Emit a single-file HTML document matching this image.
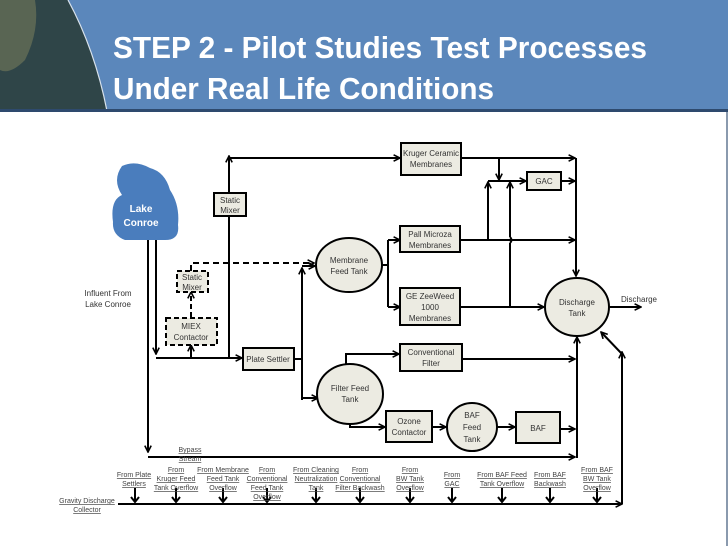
<!DOCTYPE html>
<html><head><meta charset="utf-8"><style>
html,body{margin:0;padding:0;width:728px;height:546px;overflow:hidden;background:#fff}
svg{display:block}
</style></head><body>
<svg width="728" height="546" viewBox="0 0 728 546" xmlns="http://www.w3.org/2000/svg" font-family="Liberation Sans, sans-serif">
<defs>
<marker id="a" viewBox="0 0 10 10" refX="9" refY="5" markerWidth="4" markerHeight="4" orient="auto"><path d="M1,1 L9,5 L1,9" fill="none" stroke="#000" stroke-width="2"/></marker>
</defs>
<rect x="0" y="0" width="728" height="111" fill="#5b87bb"/>
<path d="M0,0 L68,0 Q95,50 107,111 L0,111 Z" fill="#2f4548"/>
<path d="M0,0 L35,0 Q40,30 25,60 Q10,75 0,70 Z" fill="#6b7358" opacity="0.7"/>
<path d="M68,0 Q95,50 107,111" fill="none" stroke="#d8e2ec" stroke-width="1.2"/>
<rect x="0" y="109" width="728" height="3" fill="#2e4a6e"/>
<rect x="726" y="112" width="2" height="434" fill="#8a9aae"/>
<text x="113" y="58" font-size="31" font-weight="bold" fill="#fff" textLength="534" lengthAdjust="spacingAndGlyphs">STEP 2 - Pilot Studies Test Processes</text>
<text x="113" y="99" font-size="31" font-weight="bold" fill="#fff" textLength="381" lengthAdjust="spacingAndGlyphs">Under Real Life Conditions</text>

<g stroke="#000" stroke-width="2" fill="none">
<!-- lake verticals -->
<path d="M148,238 V452" marker-end="url(#a)"/>
<path d="M156,238 V354" marker-end="url(#a)"/>
<path d="M156,358 H242" marker-end="url(#a)"/>
<path d="M191,358 V345" marker-end="url(#a)"/>
<path d="M229,358 V156" marker-end="url(#a)"/>
<path d="M229,158 H400" marker-end="url(#a)"/>
<!-- dashed -->
<path d="M191,317 V292" stroke-dasharray="5,3" marker-end="url(#a)"/>
<path d="M191,271 V263 H314" stroke-dasharray="6,4" marker-end="url(#a)"/>
<!-- plate settler to filter feed -->
<path d="M294,359 H301"/>
<path d="M302,400 V268" marker-end="url(#a)"/>
<path d="M302,266 H315" marker-end="url(#a)"/>
<path d="M302,398 H318" marker-end="url(#a)"/>
<!-- membrane feed out -->
<path d="M382,265 H388 M388,240 V307"/>
<path d="M388,240 H400" marker-end="url(#a)"/>
<path d="M388,307 H400" marker-end="url(#a)"/>
<!-- kruger/pall/GE -->
<path d="M461,158 H575" marker-end="url(#a)"/>
<path d="M499,158 V180" marker-end="url(#a)"/>
<path d="M488,181 H526" marker-end="url(#a)"/>
<path d="M561,181 H575" marker-end="url(#a)"/>
<path d="M488,240 V182" marker-end="url(#a)"/>
<path d="M510,307 V243 M510,237 V182" marker-end="url(#a)"/>
<path d="M510,243 Q513,240 510,237"/>
<path d="M460,240 H575" marker-end="url(#a)"/>
<path d="M460,307 H544" marker-end="url(#a)"/>
<path d="M576,158 V276" marker-end="url(#a)"/>
<path d="M609,307 H641" marker-end="url(#a)"/>
<!-- lower -->
<path d="M577,458 V337" marker-end="url(#a)"/>
<path d="M462,359 H575" marker-end="url(#a)"/>
<path d="M560,429 H575" marker-end="url(#a)"/>
<path d="M148,457 H575" marker-end="url(#a)"/>
<path d="M622,504 V352" marker-end="url(#a)"/>
<path d="M622,354 L601,332" marker-end="url(#a)"/>
<path d="M346,366 V354 H399" marker-end="url(#a)"/>
<path d="M350,424 V427 H385" marker-end="url(#a)"/>
<path d="M432,427 H446" marker-end="url(#a)"/>
<path d="M497,427 H515" marker-end="url(#a)"/>
<!-- collector -->
<path d="M118,504 H622" marker-end="url(#a)"/>
<path d="M135,488 V502 M176,488 V502 M223,488 V502 M267,488 V502 M316,488 V502 M360,488 V502 M410,488 V502 M452,488 V502 M502,488 V502 M550,488 V502 M597,488 V502"/>
<path d="M131,497 L135,502 L139,497 M172,497 L176,502 L180,497 M219,497 L223,502 L227,497 M263,497 L267,502 L271,497 M312,497 L316,502 L320,497 M356,497 L360,502 L364,497 M406,497 L410,502 L414,497 M448,497 L452,502 L456,497 M498,497 L502,502 L506,497 M546,497 L550,502 L554,497 M593,497 L597,502 L601,497"/>
</g>

<!-- lake -->
<path d="M122,166 Q135,160 150,168 Q165,172 170,190 Q180,205 178,225 Q180,240 165,240 L125,240 Q112,235 113,222 Q110,200 122,195 Q112,180 122,166 Z" fill="#4a7dbd"/>
<text x="141" y="212" font-size="10" font-weight="bold" fill="#fff" text-anchor="middle">Lake</text>
<text x="141" y="226" font-size="10" font-weight="bold" fill="#fff" text-anchor="middle">Conroe</text>

<g fill="#ecebe2" stroke="#000" stroke-width="2">
<rect x="214" y="193" width="32" height="23"/>
<rect x="401" y="143" width="60" height="32"/>
<rect x="527" y="172" width="34" height="18"/>
<rect x="400" y="226" width="60" height="26"/>
<rect x="400" y="288" width="60" height="37"/>
<rect x="243" y="348" width="51" height="22"/>
<rect x="400" y="344" width="62" height="27"/>
<rect x="386" y="411" width="46" height="31"/>
<rect x="516" y="412" width="44" height="31"/>
<ellipse cx="349" cy="265" rx="33" ry="27"/>
<ellipse cx="577" cy="307" rx="32" ry="29"/>
<ellipse cx="350" cy="394" rx="33" ry="30"/>
<ellipse cx="472" cy="427" rx="25" ry="24"/>
</g>
<g fill="#ecebe2" stroke="#000" stroke-width="2" stroke-dasharray="5,3">
<rect x="177" y="271" width="31" height="21"/>
<rect x="166" y="318" width="51" height="27"/>
</g>

<g font-size="8" fill="#333" text-anchor="middle">
<text x="230" y="203">Static</text><text x="230" y="213">Mixer</text>
<text x="192" y="280">Static</text><text x="192" y="290">Mixer</text>
<text x="191" y="329">MIEX</text><text x="191" y="340">Contactor</text>
<text x="431" y="156">Kruger Ceramic</text><text x="431" y="167">Membranes</text>
<text x="544" y="184">GAC</text>
<text x="430" y="237">Pall Microza</text><text x="430" y="248">Membranes</text>
<text x="430" y="299">GE ZeeWeed</text><text x="430" y="310">1000</text><text x="430" y="321">Membranes</text>
<text x="349" y="263">Membrane</text><text x="349" y="274">Feed Tank</text>
<text x="577" y="305">Discharge</text><text x="577" y="316">Tank</text>
<text x="268" y="362">Plate Settler</text>
<text x="431" y="355">Conventional</text><text x="431" y="366">Filter</text>
<text x="350" y="391">Filter Feed</text><text x="350" y="402">Tank</text>
<text x="409" y="424">Ozone</text><text x="409" y="435">Contactor</text>
<text x="472" y="418">BAF</text><text x="472" y="430">Feed</text><text x="472" y="442">Tank</text>
<text x="538" y="431">BAF</text>
<text x="108" y="296">Influent From</text><text x="108" y="307">Lake Conroe</text>
<text x="639" y="302">Discharge</text>
</g>
<g font-size="7" fill="#444" text-anchor="middle" text-decoration="underline">
<text x="190" y="452">Bypass</text><text x="190" y="461">Stream</text>
<text x="134" y="477">From Plate</text><text x="134" y="486">Settlers</text>
<text x="176" y="472">From</text><text x="176" y="481">Kruger Feed</text><text x="176" y="490">Tank Overflow</text>
<text x="223" y="472">From Membrane</text><text x="223" y="481">Feed Tank</text><text x="223" y="490">Overflow</text>
<text x="267" y="472">From</text><text x="267" y="481">Conventional</text><text x="267" y="490">Feed Tank</text><text x="267" y="499">Overflow</text>
<text x="316" y="472">From Cleaning</text><text x="316" y="481">Neutralization</text><text x="316" y="490">Tank</text>
<text x="360" y="472">From</text><text x="360" y="481">Conventional</text><text x="360" y="490">Filter Backwash</text>
<text x="410" y="472">From</text><text x="410" y="481">BW Tank</text><text x="410" y="490">Overflow</text>
<text x="452" y="477">From</text><text x="452" y="486">GAC</text>
<text x="502" y="477">From BAF Feed</text><text x="502" y="486">Tank Overflow</text>
<text x="550" y="477">From BAF</text><text x="550" y="486">Backwash</text>
<text x="597" y="472">From BAF</text><text x="597" y="481">BW Tank</text><text x="597" y="490">Overflow</text>
<text x="87" y="503">Gravity Discharge</text><text x="87" y="512">Collector</text>
</g>
</svg>
</body></html>
